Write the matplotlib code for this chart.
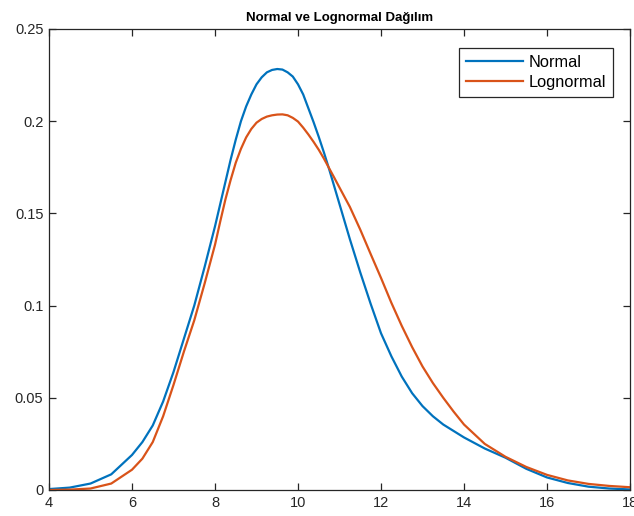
import matplotlib
matplotlib.use("Agg")
import matplotlib.pyplot as plt

# values
x_normal = [4.0, 4.5, 5.0, 5.5, 6.0, 6.25, 6.5, 6.75, 7.0, 7.25, 7.5, 7.75,
            8.0, 8.125, 8.25, 8.375, 8.5, 8.625, 8.75, 8.875, 9.0, 9.125, 9.25, 9.375,
            9.5, 9.625, 9.75, 9.875, 10.0, 10.125, 10.25, 10.375, 10.5, 10.625, 10.75, 10.875,
            11.0, 11.25, 11.5, 11.75, 12.0, 12.25, 12.5, 12.75, 13.0, 13.25, 13.5, 13.75,
            14.0, 14.5, 15.0, 15.5, 16.0, 16.5, 17.0, 17.5, 18.0]
y_normal = [0.0005, 0.0013, 0.0035, 0.0085, 0.019, 0.026, 0.035, 0.048, 0.064, 0.082, 0.100, 0.121,
            0.143, 0.155, 0.167, 0.179, 0.190, 0.200, 0.208, 0.2145, 0.220, 0.2238, 0.2265, 0.2278,
            0.2283, 0.2280, 0.2265, 0.2242, 0.220, 0.2145, 0.207, 0.1995, 0.1915, 0.183, 0.174, 0.1645,
            0.155, 0.136, 0.118, 0.101, 0.085, 0.0725, 0.0615, 0.0525, 0.0455, 0.040, 0.0355, 0.032,
            0.0285, 0.0225, 0.0175, 0.0115, 0.0068, 0.0038, 0.0018, 0.0008, 0.0003]

x_lognormal = x_normal
y_lognormal = [0.0, 0.0002, 0.0008, 0.0035, 0.011, 0.017, 0.026, 0.040, 0.057, 0.075, 0.092, 0.112,
               0.133, 0.1455, 0.1575, 0.168, 0.1775, 0.185, 0.1912, 0.1958, 0.1992, 0.2012, 0.2025, 0.2032,
               0.2036, 0.2037, 0.2032, 0.2018, 0.1998, 0.1965, 0.1928, 0.1888, 0.1845, 0.1797, 0.1745, 0.1693,
               0.164, 0.1535, 0.1412, 0.128, 0.115, 0.1015, 0.089, 0.0775, 0.067, 0.058, 0.050, 0.0425,
               0.0355, 0.025, 0.018, 0.0125, 0.0082, 0.0052, 0.0033, 0.0022, 0.0015]

x_ticks = [4, 6, 8, 10, 12, 14, 16, 18]
y_ticks = [0, 0.05, 0.1, 0.15, 0.2, 0.25]
y_tick_labels = ["0", "0.05", "0.1", "0.15", "0.2", "0.25"]

plt.rcParams['font.family'] = ['Liberation Sans', 'DejaVu Sans']

fig = plt.figure(figsize=(6.34, 5.16), dpi=100)
ax = fig.add_axes([0.0773, 0.0504, 0.9164, 0.8934])

ax.plot(x_normal, y_normal, color='#0072BD', lw=1.6, label='Normal')
ax.plot(x_lognormal, y_lognormal, color='#D95319', lw=1.6, label='Lognormal')

ax.set_xlim(4, 18)
ax.set_ylim(0, 0.25)
ax.set_xticks(x_ticks)
ax.set_yticks(y_ticks)
ax.set_yticklabels(y_tick_labels)
ax.tick_params(direction='in', top=True, right=True, length=5, width=0.9,
               color='#262626', labelsize=10.5, labelcolor='#262626', pad=4)
for s in ax.spines.values():
    s.set_color('#262626')
    s.set_linewidth(0.9)

ax.set_title('Normal ve Lognormal Dağılım', fontsize=9.5, fontweight='bold', pad=6)

leg = ax.legend(loc='upper right', bbox_to_anchor=(0.9707, 0.9588), borderaxespad=0,
                fontsize=11.8, fancybox=False, framealpha=1, edgecolor='#262626',
                handlelength=3.5, handletextpad=0.35, labelspacing=0.3, borderpad=0.42)
leg.get_frame().set_linewidth(0.9)

fig.savefig('out.png', dpi=100)
